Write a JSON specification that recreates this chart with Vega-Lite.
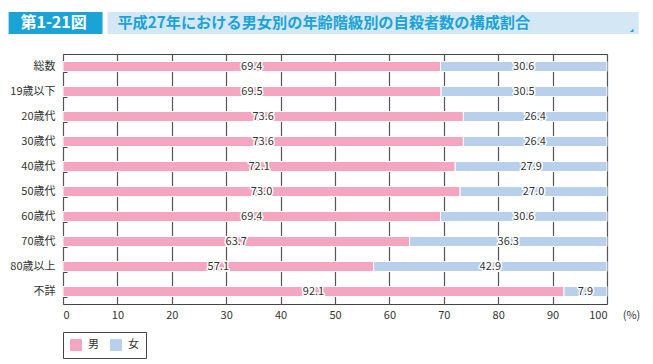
{
  "$schema": "https://vega.github.io/schema/vega-lite/v6.json",
  "padding": {"left": 8, "top": 11, "right": 0, "bottom": 0},
  "spacing": 13,
  "config": {
    "font": "Noto Sans CJK JP",
    "view": {"stroke": null}
  },
  "datasets": {
    "rows": [
      {"cat": "総数", "sex": "男", "ord": 1, "value": 69.4},
      {"cat": "総数", "sex": "女", "ord": 2, "value": 30.6},
      {"cat": "19歳以下", "sex": "男", "ord": 1, "value": 69.5},
      {"cat": "19歳以下", "sex": "女", "ord": 2, "value": 30.5},
      {"cat": "20歳代", "sex": "男", "ord": 1, "value": 73.6},
      {"cat": "20歳代", "sex": "女", "ord": 2, "value": 26.4},
      {"cat": "30歳代", "sex": "男", "ord": 1, "value": 73.6},
      {"cat": "30歳代", "sex": "女", "ord": 2, "value": 26.4},
      {"cat": "40歳代", "sex": "男", "ord": 1, "value": 72.1},
      {"cat": "40歳代", "sex": "女", "ord": 2, "value": 27.9},
      {"cat": "50歳代", "sex": "男", "ord": 1, "value": 73.0},
      {"cat": "50歳代", "sex": "女", "ord": 2, "value": 27.0},
      {"cat": "60歳代", "sex": "男", "ord": 1, "value": 69.4},
      {"cat": "60歳代", "sex": "女", "ord": 2, "value": 30.6},
      {"cat": "70歳代", "sex": "男", "ord": 1, "value": 63.7},
      {"cat": "70歳代", "sex": "女", "ord": 2, "value": 36.3},
      {"cat": "80歳以上", "sex": "男", "ord": 1, "value": 57.1},
      {"cat": "80歳以上", "sex": "女", "ord": 2, "value": 42.9},
      {"cat": "不詳", "sex": "男", "ord": 1, "value": 92.1},
      {"cat": "不詳", "sex": "女", "ord": 2, "value": 7.9}
    ]
  },
  "vconcat": [
    {
      "width": 544,
      "height": 23,
      "data": {"values": [{"t": "第1-21図", "title": "平成27年における男女別の年齢階級別の自殺者数の構成割合"}]},
      "encoding": {},
      "layer": [
        {
          "mark": {"type": "rect", "color": "#D3E8F4"},
          "encoding": {
            "x": {"datum": 45, "type": "quantitative", "scale": {"domain": [0, 544], "range": [0, 544]}, "axis": null},
            "x2": {"datum": 582},
            "y": {"datum": 0, "type": "quantitative", "scale": {"domain": [0, 23], "range": [23, 0]}, "axis": null},
            "y2": {"datum": 23}
          }
        },
        {
          "mark": {"type": "rect", "color": "#1BA3D6"},
          "encoding": {
            "x": {"datum": -55, "type": "quantitative"},
            "x2": {"datum": 40},
            "y": {"datum": 0, "type": "quantitative"},
            "y2": {"datum": 23}
          }
        },
        {
          "mark": {"type": "text", "color": "white", "fontWeight": "bold", "fontSize": 16, "align": "left", "baseline": "middle"},
          "encoding": {
            "x": {"datum": -43, "type": "quantitative"},
            "y": {"datum": 11.5, "type": "quantitative"},
            "text": {"field": "t"}
          }
        },
        {
          "mark": {"type": "text", "color": "#1BA3D6", "fontWeight": "bold", "fontSize": 15.2, "align": "left", "baseline": "middle"},
          "encoding": {
            "x": {"datum": 55, "type": "quantitative"},
            "y": {"datum": 11.5, "type": "quantitative"},
            "text": {"field": "title"}
          }
        },
        {
          "mark": {"type": "point", "filled": true, "color": "#1BA3D6", "shape": "M1,-1L1,1L-1,1Z", "size": 12, "opacity": 1},
          "encoding": {
            "x": {"datum": 575, "type": "quantitative"},
            "y": {"datum": 4, "type": "quantitative"}
          }
        }
      ]
    },
    {
      "width": 544,
      "height": 250,
      "view": {"stroke": "#444", "strokeWidth": 1},
      "data": {"name": "rows"},
      "transform": [
        {"stack": "value", "groupby": ["cat"], "sort": [{"field": "ord"}], "as": ["v0", "v1"]},
        {"calculate": "(datum.v0 + datum.v1) / 2", "as": "mid"}
      ],
      "encoding": {
        "y": {
          "field": "cat", "type": "nominal", "sort": null,
          "scale": {"paddingInner": 0.6, "paddingOuter": 0.3},
          "axis": {"title": null, "domain": false, "tickBand": "extent", "tickSize": -4, "tickColor": "#444",
                   "labelFont": "Noto Sans CJK JP", "labelFontSize": 11, "labelColor": "#333", "labelPadding": 12}
        }
      },
      "layer": [
        {
          "mark": {"type": "bar", "stroke": "white", "strokeWidth": 1},
          "encoding": {
            "x": {"field": "v0", "type": "quantitative", "scale": {"domain": [0, 100]},
                  "axis": {"values": [0,10,20,30,40,50,60,70,80,90,100], "grid": true, "gridColor": "#555", "gridWidth": 1.2, "gridOpacity": 1,
                           "domain": false, "ticks": false, "labelFontSize": 11, "labelColor": "#333", "labelPadding": 5,
                           "labelFont": "Noto Sans CJK JP",
                           "title": "(%)", "titleFontSize": 11, "titleFontWeight": "normal", "titleColor": "#333",
                           "titleX": 568, "titleY": 11, "titleBaseline": "middle", "titleAlign": "center", "titleFont": "Noto Sans CJK JP"}},
            "x2": {"field": "v1"},
            "color": {
              "field": "sex", "type": "nominal",
              "scale": {"domain": ["男", "女"], "range": ["#F4A6C0", "#B8D0EC"]},
              "legend": {"title": null, "orient": "none", "legendX": 0, "legendY": 321, "direction": "horizontal",
                         "strokeColor": "#444", "padding": 7, "symbolType": "square", "symbolSize": 144, "symbolStrokeWidth": 0,
                         "labelFontSize": 11, "labelColor": "#333", "columnPadding": 11, "labelOffset": 6, "labelFont": "Noto Sans CJK JP", "symbolOpacity": 1}
            }
          }
        },
        {
          "mark": {"type": "text", "fontSize": 11, "stroke": "white", "strokeWidth": 3, "strokeJoin": "round", "color": "white"},
          "encoding": {
            "x": {"field": "mid", "type": "quantitative"},
            "text": {"field": "value", "type": "quantitative", "format": ".1f"}
          }
        },
        {
          "mark": {"type": "text", "fontSize": 11, "color": "#333"},
          "encoding": {
            "x": {"field": "mid", "type": "quantitative"},
            "text": {"field": "value", "type": "quantitative", "format": ".1f"}
          }
        }
      ]
    }
  ]
}
